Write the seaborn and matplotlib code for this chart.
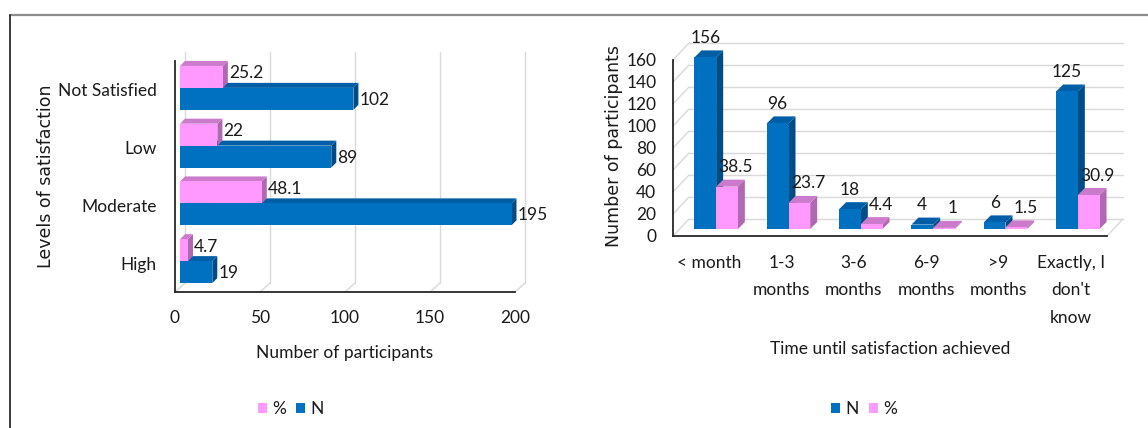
import matplotlib
matplotlib.use("Agg")
import matplotlib.pyplot as plt
import matplotlib.transforms as mtransforms
from matplotlib.patches import Polygon
from matplotlib.lines import Line2D
import pandas as pd
import seaborn as sns

# ---- data -------------------------------------------------------------
levels = ["Not Satisfied", "Low", "Moderate", "High"]
sat_n = [102, 89, 195, 19]
sat_pct = [25.2, 22, 48.1, 4.7]

periods = ["< month", "1-3\nmonths", "3-6\nmonths", "6-9\nmonths", ">9\nmonths",
           "Exactly, I\ndon't\nknow"]
time_n = [156, 96, 18, 4, 6, 125]
time_pct = [38.5, 23.7, 4.4, 1, 1.5, 30.9]

sat_ticks = [0, 50, 100, 150, 200]
time_ticks = [0, 20, 40, 60, 80, 100, 120, 140, 160]

# ---- style ------------------------------------------------------------
W, H, DPI = 1148, 428, 100
FRONT = {"N": "#0070C0", "%": "#FF99FF"}
TOP = {"N": "#005EA6", "%": "#CC7ACC"}
SIDE = {"N": "#004C87", "%": "#B068B0"}
GRID = "#D9D9D9"
INK = "#1A1A1A"
LFS = 12.5

sns.set_style("white")
plt.rcParams["font.family"] = ["Lato", "DejaVu Sans"]
plt.rcParams["font.size"] = LFS
plt.rcParams["text.color"] = INK

fig = plt.figure(figsize=(W / DPI, H / DPI), dpi=DPI)


def px_axes(left, top, right, bottom):
    return fig.add_axes([left / W, 1 - bottom / H, (right - left) / W, (bottom - top) / H])


def lift(ax, dx, dy):
    """transData shifted by (dx, dy) pixels."""
    return ax.transData + mtransforms.ScaledTranslation(dx / DPI, dy / DPI, fig.dpi_scale_trans)


def extrude(ax, bars, trans, depth, key, z):
    """Move the bar faces onto `trans` and give them a top and a side face."""
    inv = trans.inverted()
    for bar in bars:
        bar.set_transform(trans)
        bar.set_clip_on(False)
        bar.set_zorder(z + 0.05)
        (x0, y0), (x1, y1) = trans.transform(
            [(bar.get_x(), bar.get_y()),
             (bar.get_x() + bar.get_width(), bar.get_y() + bar.get_height())])
        L, R = sorted((x0, x1))
        B, T = sorted((y0, y1))
        d = depth
        top = [(L, T), (R, T), (R + d, T + d), (L + d, T + d)]
        side = [(R, B), (R, T), (R + d, T + d), (R + d, B + d)]
        for pts, col in ((side, SIDE[key]), (top, TOP[key])):
            ax.add_patch(Polygon(inv.transform(pts), closed=True, facecolor=col,
                                 edgecolor="none", transform=trans, clip_on=False,
                                 zorder=z))


def diagonal(ax, x, y, dx, dy):
    p0 = ax.transData.transform((x, y))
    pts = ax.transData.inverted().transform([p0, (p0[0] + dx, p0[1] + dy)])
    ax.plot(pts[:, 0], pts[:, 1], color=GRID, lw=1.0, clip_on=False, zorder=0.5)


def style_axes(ax):
    sns.despine(ax=ax)
    for s in ("left", "bottom"):
        ax.spines[s].set_color("#262626")
        ax.spines[s].set_linewidth(1.3)
        ax.spines[s].set_zorder(3)
    ax.tick_params(length=0, labelsize=LFS, colors=INK)
    ax.grid(False)


PT = 0.72  # points per pixel at 100 dpi
LEGEND_KW = dict(ncol=2, frameon=False, title=None, fontsize=LFS,
                 handlelength=0.5, handleheight=0.5, handletextpad=0.3,
                 columnspacing=0.6)

# ---- left: level of satisfaction --------------------------------------
ax1 = px_axes(175, 61, 515, 292)
df1 = pd.DataFrame({"level": levels * 2,
                    "measure": ["%"] * len(levels) + ["N"] * len(levels),
                    "value": sat_pct + sat_n})
sns.barplot(data=df1, x="value", y="level", hue="measure", order=levels,
            hue_order=["%", "N"], palette=FRONT, saturation=1, width=0.76,
            orient="h", edgecolor="none", ax=ax1)
ax1.set_xlim(0, 200)
ax1.set_ylim(len(levels) - 0.5, -0.5)
ax1.set_xticks(sat_ticks)
style_axes(ax1)
ax1.tick_params(axis="both", pad=13)

# back wall and floor
for v in sat_ticks:
    ax1.plot([v, v], [len(levels) - 0.5, -0.5], color=GRID, lw=1.0,
             transform=lift(ax1, 10, 9), clip_on=False, zorder=0.5)
    diagonal(ax1, v, len(levels) - 0.5, 10, 9)

t1 = lift(ax1, 5, 2)
for key, cont, z in (("N", ax1.containers[1], 2.0), ("%", ax1.containers[0], 2.2)):
    extrude(ax1, cont.patches, t1, 5, key, z)
    for bar in cont.patches:
        val = bar.get_width()
        yc = bar.get_y() + bar.get_height() / 2
        ax1.annotate(f"{val:g}", xy=(val, yc), xycoords=t1,
                     xytext=(6 * PT, (3.5 if key == "%" else -1) * PT),
                     textcoords="offset points", ha="left", va="center",
                     fontsize=LFS, color=INK, zorder=4)

ax1.set_xlabel("Number of participants", fontsize=LFS, color=INK)
ax1.xaxis.set_label_coords(0.5, -0.264)
ax1.xaxis.label.set_va("center")
ax1.set_ylabel("Levels of satisfaction", fontsize=12.5, color=INK,
               family=["DejaVu Sans"])
ax1.yaxis.set_label_coords(-0.379, 0.502)
ax1.yaxis.label.set_va("center")
sns.move_legend(ax1, "center", bbox_to_anchor=(0.34, -0.506), **LEGEND_KW)

# ---- right: time until satisfaction ------------------------------------
ax2 = px_axes(673, 60, 1107, 236)
df2 = pd.DataFrame({"period": periods * 2,
                    "measure": ["N"] * len(periods) + ["%"] * len(periods),
                    "value": time_n + time_pct})
sns.barplot(data=df2, x="period", y="value", hue="measure", order=periods,
            hue_order=["N", "%"], palette=FRONT, saturation=1, width=0.6,
            edgecolor="none", ax=ax2)
ax2.set_xlim(-0.5, len(periods) - 0.5)
ax2.set_ylim(0, 160)
ax2.set_yticks(time_ticks)
style_axes(ax2)
ax2.tick_params(axis="y", pad=12)
ax2.tick_params(axis="x", pad=14)
for lab in ax2.get_xticklabels():
    lab.set_linespacing(1.85)

for v in time_ticks:
    ax2.plot([-0.5, len(periods) - 0.5], [v, v], color=GRID, lw=1.0,
             transform=lift(ax2, 16, 17), clip_on=False, zorder=0.5)
    diagonal(ax2, -0.5, v, 16, 17)
diagonal(ax2, len(periods) - 0.5, 0, 16, 17)

t2 = lift(ax2, 7, 7)
for key, cont, z in (("N", ax2.containers[0], 2.0), ("%", ax2.containers[1], 2.2)):
    extrude(ax2, cont.patches, t2, 7, key, z)
    for bar in cont.patches:
        val = bar.get_height()
        xc = bar.get_x() + bar.get_width() / 2
        ax2.annotate(f"{val:g}", xy=(xc, val), xycoords=t2,
                     xytext=((9 if key == "%" else 0) * PT, 19.5 * PT),
                     textcoords="offset points", ha="center", va="center",
                     fontsize=LFS, color=INK, zorder=4)

ax2.set_xlabel("Time until satisfaction achieved", fontsize=LFS, color=INK)
ax2.xaxis.set_label_coords(0.5, -0.642)
ax2.xaxis.label.set_va("center")
ax2.set_ylabel("Number of participants", fontsize=12.5, color=INK,
               family=["DejaVu Sans"])
ax2.yaxis.set_label_coords(-0.136, 0.511)
ax2.yaxis.label.set_va("center")
sns.move_legend(ax2, "center", bbox_to_anchor=(0.44, -0.983), **LEGEND_KW)

# ---- frame ------------------------------------------------------------
fig.add_artist(Line2D([10 / W, 1], [1 - 15 / H, 1 - 15 / H], color="#8C8C8C", lw=1.6))
fig.add_artist(Line2D([10 / W, 10 / W], [0, 1 - 15 / H], color=INK, lw=1.2))

fig.savefig("out.png", dpi=DPI, facecolor="white")
